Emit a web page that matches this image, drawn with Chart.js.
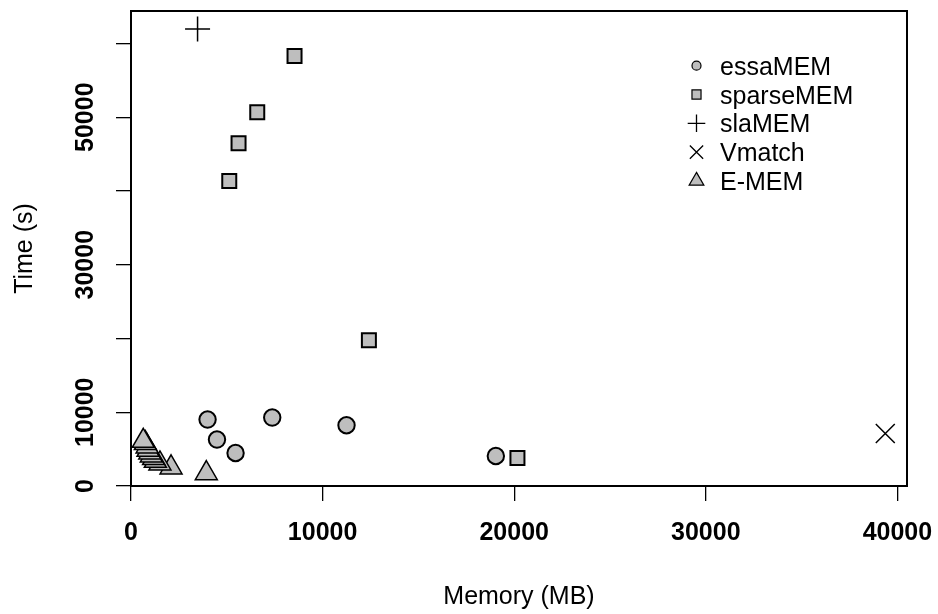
<!DOCTYPE html>
<html>
<head>
<meta charset="utf-8">
<script src="https://cdn.jsdelivr.net/npm/chart.js"></script>
<style>
  body { margin: 0; background: #fff; }
  #wrap { width: 938px; height: 614px; }
</style>
</head>
<body>
<div id="wrap"><canvas id="grafico" width="938" height="614"></canvas></div>
<script>
// values
var seriesNames = ['essaMEM', 'sparseMEM', 'slaMEM', 'Vmatch', 'E-MEM'];

var essaMemory = [3996, 4487, 5457, 7371, 11248, 19041];
var essaTime   = [9010, 6297, 4478, 9282, 8237, 4071];

var sparseMemory = [8535, 6589, 5613, 5128, 12416, 20169];
var sparseTime   = [58310, 50670, 46460, 41340, 19770, 3800];

var slaMemory = [3474];
var slaTime   = [61975];

var vmatchMemory = [39367];
var vmatchTime   = [7111];

var ememMemory = [3930, 2090, 1510, 1270, 1180, 1060, 980, 890, 840, 750, 640];
var ememTime   = [1720, 2500, 3040, 3390, 3760, 4130, 4530, 4890, 5350, 5800, 6100];

var xTicks = [0, 10000, 20000, 30000, 40000];
var yTicks = [0, 10000, 20000, 30000, 40000, 50000, 60000];
var yTickLabels = [0, 10000, 30000, 50000];

var grigio = '#bebebe';
var font = 'Liberation Sans, Arial, Helvetica, sans-serif';

function punti(xs, ys) {
  return xs.map(function(x, i){ return {x: x, y: ys[i]}; });
}

// legend symbol sizes (smaller than plot symbols)
var legendaStili = [
  {pointStyle: 'circle', radius: 4.5, borderWidth: 1.2, fill: true},
  {pointStyle: 'rect', radius: 6.4, borderWidth: 1.2, fill: true},
  {pointStyle: 'cross', radius: 8.8, borderWidth: 1.3, fill: false},
  {pointStyle: 'crossRot', radius: 9.4, borderWidth: 1.3, fill: false},
  {pointStyle: 'triangle', radius: 8.5, borderWidth: 1.2, fill: true}
];

var boxPlugin = {
  id: 'box',
  afterDraw: function(chart){
    var ctx = chart.ctx, a = chart.chartArea;
    ctx.save();
    ctx.strokeStyle = '#000';
    ctx.lineWidth = 2;
    ctx.strokeRect(a.left, a.top, a.right - a.left, a.bottom - a.top);
    ctx.restore();
  }
};

var legendaPlugin = {
  id: 'legenda',
  afterDraw: function(chart){
    var ctx = chart.ctx;
    ctx.save();
    ctx.font = '25px ' + font;
    ctx.textBaseline = 'alphabetic';
    ctx.textAlign = 'left';
    chart.data.datasets.forEach(function(ds, i){
      var y = 65.7 + i * 28.8;
      var s = legendaStili[i];
      ctx.fillStyle = s.fill ? grigio : 'rgba(0,0,0,0)';
      ctx.strokeStyle = '#000';
      ctx.lineWidth = s.borderWidth;
      Chart.helpers.drawPoint(ctx, {pointStyle: s.pointStyle, radius: s.radius, borderWidth: s.borderWidth, rotation: 0}, 696.5, y);
      ctx.fillStyle = '#000';
      ctx.fillText(ds.label, 720, y + 9);
    });
    ctx.restore();
  }
};

var ctx = document.getElementById('grafico');
var chart = new Chart(ctx, {
  type: 'scatter',
  data: {
    datasets: [
      {label: seriesNames[0], data: punti(essaMemory, essaTime), pointStyle: 'circle', pointRadius: 8.2, backgroundColor: grigio, borderColor: '#000', borderWidth: 2},
      {label: seriesNames[1], data: punti(sparseMemory, sparseTime), pointStyle: 'rect', pointRadius: 9.9, backgroundColor: grigio, borderColor: '#000', borderWidth: 2},
      {label: seriesNames[2], data: punti(slaMemory, slaTime), pointStyle: 'cross', pointRadius: 12.5, backgroundColor: '#000', borderColor: '#000', borderWidth: 1.5},
      {label: seriesNames[3], data: punti(vmatchMemory, vmatchTime), pointStyle: 'crossRot', pointRadius: 13.4, backgroundColor: '#000', borderColor: '#000', borderWidth: 1.5},
      {label: seriesNames[4], data: punti(ememMemory, ememTime), pointStyle: 'triangle', pointRadius: 12.7, backgroundColor: grigio, borderColor: '#000', borderWidth: 1.5}
    ]
  },
  options: {
    responsive: false,
    animation: false,
    events: [],
    layout: { autoPadding: false, padding: {top: 11, right: 31, left: 0, bottom: 0} },
    plugins: {
      legend: { display: false },
      tooltip: { enabled: false }
    },
    scales: {
      x: {
        type: 'linear',
        min: 0,
        max: 40500,
        afterFit: function(scale){ scale.height = 128; },
        afterBuildTicks: function(scale){ scale.ticks = xTicks.map(function(v){ return {value: v}; }); },
        border: { display: false },
        grid: { drawOnChartArea: false, drawTicks: true, tickLength: 15, color: '#000', lineWidth: 1.3 },
        ticks: {
          color: '#000',
          // small padding keeps the right overhang under the layout padding,
          // the tall lineHeight pushes the labels down instead
          font: {family: font, size: 25, weight: 'bold', lineHeight: '56px'},
          padding: 4,
          maxRotation: 0,
          autoSkip: false,
          callback: function(v){ return String(v); }
        },
        title: { display: true, text: 'Memory (MB)', color: '#000', font: {family: font, size: 25}, padding: {top: 0, bottom: 2} }
      },
      y: {
        type: 'linear',
        min: 0,
        max: 64400,
        afterFit: function(scale){ scale.width = 131; },
        afterBuildTicks: function(scale){ scale.ticks = yTicks.map(function(v){ return {value: v}; }); },
        ticks: {
          autoSkip: false,
          color: '#000',
          font: {family: font, size: 25, weight: 'bold', lineHeight: 0.01},
          minRotation: 90,
          maxRotation: 90,
          crossAlign: 'center',
          padding: -5,
          callback: function(v){ return yTickLabels.indexOf(v) >= 0 ? String(v) : ''; }
        },
        border: { display: false },
        grid: { drawOnChartArea: false, drawTicks: true, tickLength: 15, color: '#000', lineWidth: 1.3 },
        title: { display: true, text: 'Time (s)', color: '#000', font: {family: font, size: 25}, padding: {top: 10, bottom: 0} }
      }
    }
  },
  plugins: [boxPlugin, legendaPlugin]
});
</script>
</body>
</html>
